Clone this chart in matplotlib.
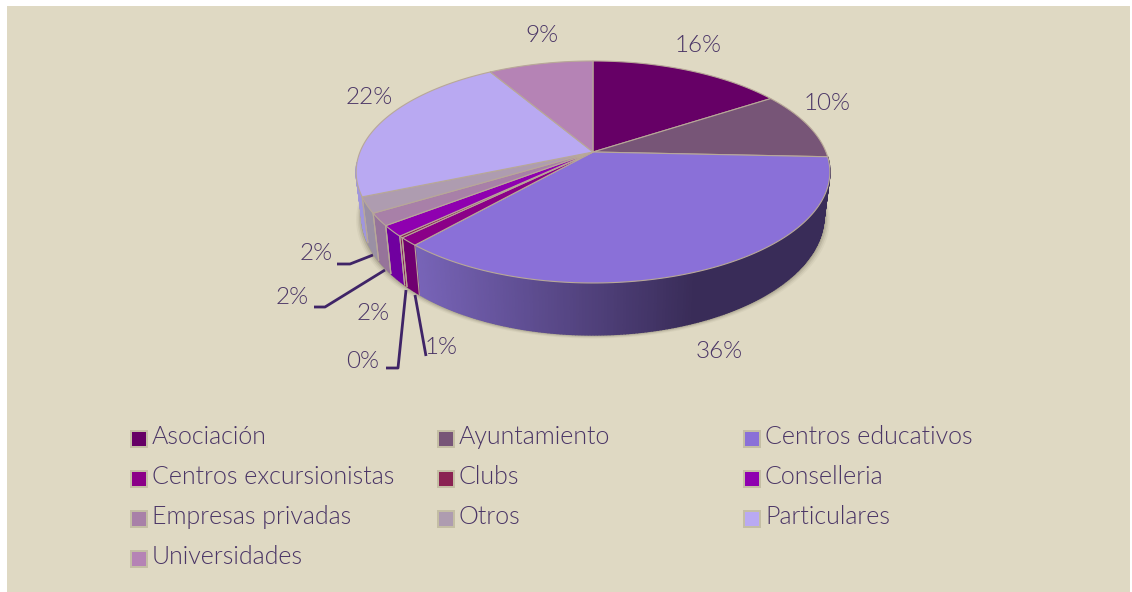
import matplotlib
matplotlib.use('Agg')
import matplotlib.pyplot as plt
from matplotlib.patches import Polygon, Rectangle
import numpy as np

labels = ['Asociación', 'Ayuntamiento', 'Centros educativos', 'Centros excursionistas', 'Clubs',
          'Conselleria', 'Empresas privadas', 'Otros', 'Particulares', 'Universidades']
shares = [15.8, 9.9, 35.8, 1.2, 0.25, 1.6, 1.8, 2.3, 22.85, 8.5]
pct_text = ['16%', '10%', '36%', '1%', '0%', '2%', '2%', '2%', '22%', '9%']
colors = ['#660066', '#775577', '#8a70d8', '#8b0088', '#8a2252',
          '#8f00b0', '#a880a8', '#ae9cb0', '#b9a9f2', '#b583b5']
side_colors = ['#660066', '#775577', '#8a70d8', '#700070', '#8a2252',
               '#7000a0', '#96749a', '#9a90a4', '#a096dc', '#b583b5']

pct_xy = [(698, 45), (827, 103), (719, 351), (441, 347), (363, 360),
          (373, 312), (292, 296), (316, 253), (369, 96), (542, 35)]
# leader lines for the small slices
leaders = {3: [(415, 295), (426, 356)],
           4: [(406, 290), (398, 368), (386, 368)],
           6: [(385, 270), (325, 307), (314, 307)],
           7: [(373, 255), (350, 264), (337, 264)]}

BG = '#dfd9c3'
TXT = '#4a3566'
CX, CY = 593, 152
A, B, K = 233, 107.4, 0.18
DEPTH = 42.6
SHRINK = 0.975


def rim(theta, drop=0.0):
    # perspective circle, theta clockwise from 12 o'clock
    w = 1 + K * np.cos(theta)
    scale = SHRINK if drop else 1.0
    return CX + scale * A * np.sin(theta) / w, CY - B * np.cos(theta) / w + drop / w


def side_color(x):
    # side wall goes from the slice colour to dark going right
    t = np.clip((x - 415) / (695 - 415), 0, 1)
    c0 = np.array(matplotlib.colors.to_rgb('#7864b8'))
    c1 = np.array(matplotlib.colors.to_rgb('#392c58'))
    return c0 + (c1 - c0) * t


fig = plt.figure(figsize=(11.32, 5.92), dpi=100, facecolor='white')
ax = fig.add_axes([0, 0, 1, 1])
ax.set_xlim(0, 1132)
ax.set_ylim(592, 0)
ax.axis('off')
ax.add_patch(Rectangle((7, 6), 1123, 586, fc=BG, ec='none'))

edges = np.cumsum([0] + shares) / sum(shares) * 2 * np.pi

# soft shadow under the pie
tt = np.linspace(0, 2 * np.pi, 300)
for off, al in [(6, 0.05), (4.5, 0.08), (3, 0.12), (1.5, 0.18)]:
    xs, ys = rim(tt, DEPTH)
    ax.add_patch(Polygon(np.c_[CX + (xs - CX) * (1 + off / 233), ys + off * 0.6],
                         fc='#4a4430', alpha=al, ec='none', zorder=1))

# side walls, near half of the rim only
for i in range(len(shares)):
    a0, a1 = edges[i], edges[i + 1]
    ts = np.linspace(a0, a1, max(2, int((a1 - a0) * 90)))
    for t0, t1 in zip(ts[:-1], ts[1:]):
        if np.cos((t0 + t1) / 2) > -0.1 and i != 2:
            continue
        x0, y0 = rim(t0)
        x1, y1 = rim(t1)
        x2, y2 = rim(t1, DEPTH)
        x3, y3 = rim(t0, DEPTH)
        col = side_color((x0 + x1) / 2) if i == 2 else side_colors[i]
        ax.add_patch(Polygon([(x0, y0), (x1, y1), (x2, y2), (x3, y3)], fc=col, ec=col, lw=1.0, zorder=2))
    if i != 2 and np.cos(a0) < 0:
        for a in (a0, a1):
            if np.cos(a) < 0:
                ax.plot([rim(a)[0], rim(a, DEPTH)[0]], [rim(a)[1], rim(a, DEPTH)[1]],
                        color='#b8a898', lw=0.8, zorder=3)

# top faces
for i in range(len(shares)):
    ts = np.linspace(edges[i], edges[i + 1], 120)
    xs, ys = rim(ts)
    ax.add_patch(Polygon(np.r_[[[CX, CY]], np.c_[xs, ys]], fc=colors[i], ec='#b8a898', lw=0.8,
                         joinstyle='round', zorder=4))

for i in leaders:
    pts = np.array(leaders[i])
    ax.plot(pts[:, 0], pts[:, 1], color='#3f2467', lw=2, zorder=5, solid_capstyle='butt')

for txt, (x, y) in zip(pct_text, pct_xy):
    ax.text(x, y + 1, txt, ha='center', va='center', fontsize=17.5, family='Lato', fontweight=300,
            color=TXT, zorder=6)

# legend, three columns filled row by row
col_x = [130, 437, 743]
row_y = [437, 477, 517, 557]
for i, name in enumerate(labels):
    r, c = divmod(i, 3)
    ax.add_patch(Rectangle((col_x[c], row_y[r] - 7), 18, 18, fc='#c4bea4', ec='none', zorder=5))
    ax.add_patch(Rectangle((col_x[c] + 2, row_y[r] - 5), 14, 14, fc=colors[i], ec='none', zorder=6))
    ax.text(col_x[c] + 22, row_y[r], name, ha='left', va='center', fontsize=18, family='Lato',
            fontweight=300, color=TXT, zorder=6)

fig.savefig('out.png', dpi=100, facecolor='white')
